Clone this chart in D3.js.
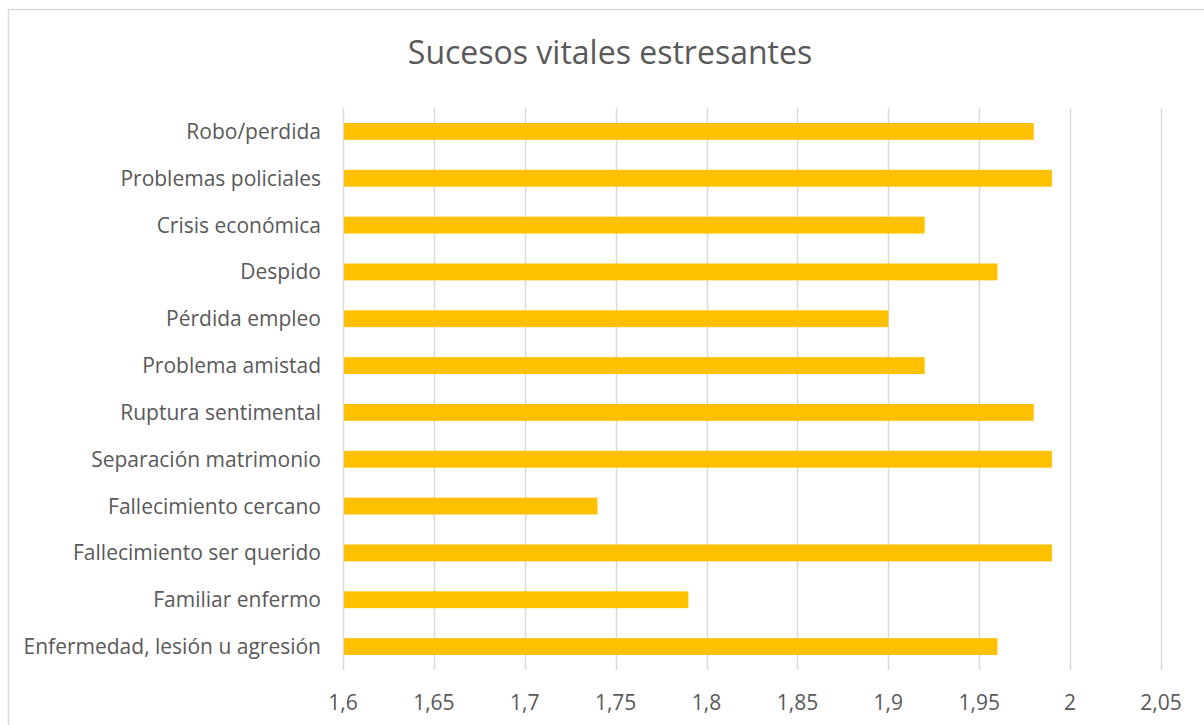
<!DOCTYPE html>
<html>
<head>
<meta charset="utf-8">
<script src="https://cdn.jsdelivr.net/npm/d3@7"></script>
<style>
  body { margin: 0; background: #fff; }
  text { font-family: "Open Sans", "Noto Sans", sans-serif; fill: #595959; }
</style>
</head>
<body>
<script>
// Chart data
const categories = [
    "Robo/perdida",
    "Problemas policiales",
    "Crisis económica",
    "Despido",
    "Pérdida empleo",
    "Problema amistad",
    "Ruptura sentimental",
    "Separación matrimonio",
    "Fallecimiento cercano",
    "Fallecimiento ser querido",
    "Familiar enfermo",
    "Enfermedad, lesión u agresión"
];
const values = [1.98, 1.99, 1.92, 1.96, 1.90, 1.92, 1.98, 1.99, 1.74, 1.99, 1.79, 1.96];
const tickValues = [1.6, 1.65, 1.7, 1.75, 1.8, 1.85, 1.9, 1.95, 2, 2.05];
const title = "Sucesos vitales estresantes";

const width = 1204, height = 725;
const svg = d3.select("body").append("svg")
    .attr("width", width)
    .attr("height", height);

// chart area border (cut off at right and bottom as in the screenshot)
svg.append("rect")
    .attr("x", 8.5).attr("y", 9.5)
    .attr("width", 1210).attr("height", 730)
    .attr("fill", "none")
    .attr("stroke", "#d9d9d9")
    .attr("stroke-width", 1.5);

const x = d3.scaleLinear().domain([1.6, 2.05]).range([343, 1161]);
const y = d3.scaleBand().domain(categories).range([108, 670]).paddingInner(0.64).paddingOuter(0.32);

// gridlines
svg.append("g")
    .selectAll("line")
    .data(tickValues)
    .join("line")
    .attr("x1", d => Math.round(x(d)) + 0.5)
    .attr("x2", d => Math.round(x(d)) + 0.5)
    .attr("y1", 108)
    .attr("y2", 670)
    .attr("stroke", "#d9d9d9")
    .attr("stroke-width", 1.5);

// bars
svg.append("g")
    .selectAll("rect")
    .data(values)
    .join("rect")
    .attr("x", x(1.6) + 1)
    .attr("y", (d, i) => y(categories[i]))
    .attr("width", d => x(d) - x(1.6) - 1)
    .attr("height", y.bandwidth())
    .attr("fill", "#FFC000");

// x axis labels
const fmt = d => String(d).replace(".", ",");
svg.append("g")
    .selectAll("text")
    .data(tickValues)
    .join("text")
    .attr("x", d => x(d))
    .attr("y", 710)
    .attr("text-anchor", "middle")
    .attr("font-size", 21)
    .text(fmt);

// category labels
svg.append("g")
    .selectAll("text")
    .data(categories)
    .join("text")
    .attr("x", 321)
    .attr("y", d => y(d) + y.bandwidth() / 2 + 7.5)
    .attr("text-anchor", "end")
    .attr("font-size", 21)
    .text(d => d);

// title
svg.append("text")
    .attr("x", 610)
    .attr("y", 64)
    .attr("text-anchor", "middle")
    .attr("font-size", 32)
    .text(title);
</script>
</body>
</html>
